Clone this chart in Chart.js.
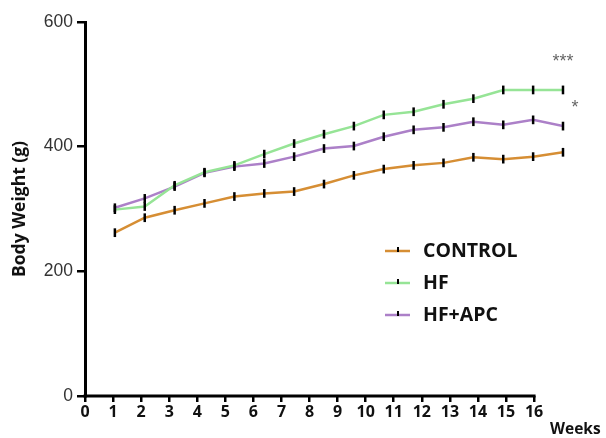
<!DOCTYPE html>
<html>
<head>
<meta charset="utf-8">
<script src="https://cdn.jsdelivr.net/npm/chart.js@4"></script>
<style>
  html, body { margin: 0; padding: 0; background: #fff; }
  #wrap { width: 606px; height: 438px; position: relative; }
</style>
</head>
<body>
<div id="wrap"><canvas id="chart" width="606" height="438"></canvas></div>
<script>
// Dados
const weeks = [1, 2, 3, 4, 5, 6, 7, 8, 9, 10, 11, 12, 13, 14, 15, 16];
const controlWeight = [262, 286, 298, 309, 320, 325, 328, 340, 354, 364, 370, 374, 383, 380, 384, 391];
const hfWeight = [299, 304, 338, 359, 370, 388, 405, 420, 433, 451, 456, 468, 477, 491, 491, 491];
const hfApcWeight = [302, 317, 336, 358, 368, 373, 384, 397, 401, 416, 427, 431, 440, 435, 443, 433];
const semBar = 7;
const yTicks = [0, 200, 400, 600];
const xTicks = [0, 1, 2, 3, 4, 5, 6, 7, 8, 9, 10, 11, 12, 13, 14, 15, 16];
const seriesNames = ['CONTROL', 'HF', 'HF+APC'];
const seriesColors = ['rgb(214,142,52)', 'rgb(150,228,150)', 'rgb(172,128,200)'];
const marks = [
  { text: '***', series: 1, dy: -30, dx: 0 },
  { text: '*', series: 2, dy: -20, dx: 12 }
];

const toPoints = arr => arr.map((v, i) => ({ x: weeks[i], y: v }));

// barras de erro, eixo x, legenda e asteriscos
const extras = {
  id: 'extras',
  afterDatasetsDraw(chart) {
    const ctx = chart.ctx;
    const xs = chart.scales.xw, ys = chart.scales.y, xa = chart.scales.x;
    ctx.save();
    // eixo x até 16
    ctx.strokeStyle = '#000';
    ctx.lineWidth = 3;
    ctx.beginPath();
    ctx.moveTo(xa.getPixelForValue(0) - 1.5, ys.getPixelForValue(0));
    ctx.lineTo(xa.getPixelForValue(16) + 1.5, ys.getPixelForValue(0));
    ctx.stroke();

    ctx.lineWidth = 2.5;
    chart.data.datasets.forEach(ds => {
      ds.data.forEach(p => {
        const x = xs.getPixelForValue(p.x);
        ctx.beginPath();
        ctx.moveTo(x, ys.getPixelForValue(p.y - semBar));
        ctx.lineTo(x, ys.getPixelForValue(p.y + semBar));
        ctx.stroke();
      });
    });

    // asteriscos
    ctx.fillStyle = '#666';
    ctx.font = '18px "Liberation Sans", Arial';
    ctx.textAlign = 'center';
    ctx.textBaseline = 'middle';
    marks.forEach(m => {
      const d = chart.data.datasets[m.series].data;
      const last = d[d.length - 1];
      ctx.fillText(m.text, xs.getPixelForValue(last.x) + m.dx, ys.getPixelForValue(last.y) + m.dy + 2);
    });

    // legenda
    ctx.font = 'bold 19.5px "Open Sans", "DejaVu Sans", sans-serif';
    ctx.textAlign = 'left';
    seriesNames.forEach((name, i) => {
      const y = 251 + i * 32;
      ctx.strokeStyle = seriesColors[i];
      ctx.lineWidth = 2.5;
      ctx.beginPath();
      ctx.moveTo(385, y);
      ctx.lineTo(410, y);
      ctx.stroke();
      ctx.strokeStyle = '#000';
      ctx.lineWidth = 2;
      ctx.beginPath();
      ctx.moveTo(398, y - 4);
      ctx.lineTo(398, y + 1);
      ctx.stroke();
      ctx.fillStyle = '#111';
      ctx.fillText(name, 423, y);
    });

    // título do eixo x
    ctx.font = 'bold 15.5px "Open Sans", sans-serif';
    ctx.fillText('Weeks', 550, 430);
    ctx.restore();
  }
};

const chart = new Chart(document.getElementById('chart'), {
  type: 'line',
  data: {
    datasets: [
      { label: seriesNames[0], data: toPoints(controlWeight), borderColor: seriesColors[0], xAxisID: 'xw' },
      { label: seriesNames[1], data: toPoints(hfWeight), borderColor: seriesColors[1], xAxisID: 'xw' },
      { label: seriesNames[2], data: toPoints(hfApcWeight), borderColor: seriesColors[2], xAxisID: 'xw' }
    ]
  },
  options: {
    responsive: false,
    animation: false,
    layout: { padding: { top: 22, right: 43, left: 0, bottom: 0 } },
    elements: {
      line: { borderWidth: 2.5, tension: 0 },
      point: { radius: 0 }
    },
    plugins: {
      legend: { display: false },
      tooltip: { enabled: false }
    },
    scales: {
      xw: {
        type: 'linear', display: false, min: 0, max: 16
      },
      x: {
        type: 'linear',
        min: 0,
        max: 17.03,
        afterBuildTicks: s => { s.ticks = xTicks.map(v => ({ value: v })); },
        afterFit: s => { s.height = 42; },
        border: { display: false },
        grid: { drawOnChartArea: false, color: '#000', lineWidth: 2.5, tickLength: 6 },
        ticks: {
          color: '#111',
          padding: 1,
          autoSkip: false,
          maxRotation: 0,
          font: { family: '"Open Sans", sans-serif', size: 16, weight: 'bold' }
        }
      },
      y: {
        min: 0,
        max: 600,
        afterBuildTicks: s => { s.ticks = yTicks.map(v => ({ value: v })); },
        afterFit: s => { s.width = 85; },
        border: { color: '#000', width: 3 },
        grid: { drawOnChartArea: false, color: '#000', lineWidth: 2.5, tickLength: 8 },
        ticks: {
          color: '#333',
          padding: 4,
          font: { family: '"Liberation Sans", Arial, sans-serif', size: 17.5 }
        },
        title: {
          display: true,
          text: 'Body Weight (g)',
          color: '#111',
          padding: { top: 10, bottom: 0 },
          font: { family: '"Open Sans", sans-serif', size: 17.5, weight: 'bold' }
        }
      }
    }
  },
  plugins: [extras]
});
</script>
</body>
</html>
